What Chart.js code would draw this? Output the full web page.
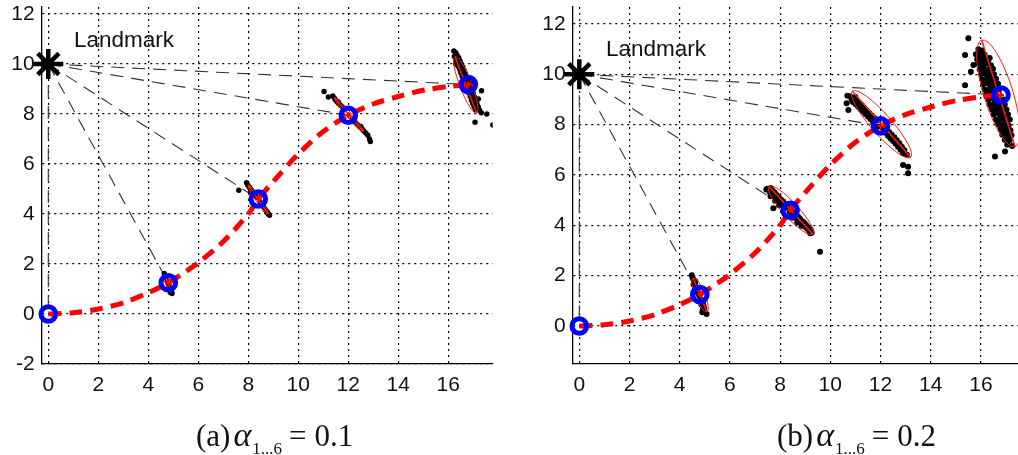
<!DOCTYPE html>
<html>
<head>
<meta charset="utf-8">
<script src="https://cdn.jsdelivr.net/npm/chart.js@4"></script>
<style>
html, body { margin: 0; padding: 0; background: #fff; }
#wrap { position: relative; width: 1018px; height: 455px; overflow: hidden; }
canvas { position: absolute; top: 0; }
</style>
</head>
<body>
<div id="wrap">
  <canvas id="chartA" width="505" height="455" style="left:0px"></canvas>
  <canvas id="chartB" width="513" height="455" style="left:505px"></canvas>
</div>
<script>
// ---- data ----
const xTicks = [0, 2, 4, 6, 8, 10, 12, 14, 16];
const yTicksA = [-2, 0, 2, 4, 6, 8, 10, 12];
const yTicksB = [0, 2, 4, 6, 8, 10, 12];

const landmarkX = [0];
const landmarkY = [10];
const landmarkLabel = 'Landmark';

// true robot poses (blue circles)
const poseX = [0, 4.8, 8.4, 12.0, 16.8];
const poseY = [0, 1.25, 4.6, 7.95, 9.18];

// red dashed trajectory
const pathX = [0, 1, 2, 3, 4, 4.8, 5.5, 6, 7, 8, 8.4, 9, 10, 11, 12, 13, 14, 15, 16, 16.8];
const pathY = [0, 0.05, 0.2, 0.45, 0.85, 1.25, 1.7, 2.05, 2.9, 4.0, 4.6, 5.3, 6.4, 7.3, 7.95, 8.4, 8.7, 8.95, 9.1, 9.18];

// particle clouds, alpha = 0.1
const cloudA1 = [[4.64,1.62],[4.68,1.52],[4.72,1.42],[4.75,1.34],[4.78,1.25],[4.82,1.15],[4.86,1.05],[4.9,0.95],[4.93,0.88],[4.95,0.82],[4.88,0.86],[4.7,1.48]];
const cloudA2 = [[7.62,4.95],[7.93,5.25],[7.98,5.15],[8.04,5.08],[8.08,5.02],[8.12,4.96],[8.16,4.9],[8.2,4.84],[8.25,4.78],[8.3,4.72],[8.35,4.66],[8.5,4.45],[8.55,4.38],[8.6,4.3],[8.65,4.22],[8.7,4.15],[8.75,4.08],[8.8,4.0],[8.85,3.95],[8.78,4.05],[8.1,4.92],[8.2,4.78]];
const cloudA3 = [[11.03,8.9],[11.2,8.68],[11.38,8.72],[11.45,8.62],[11.5,8.55],[11.56,8.48],[11.62,8.42],[11.7,8.34],[11.78,8.26],[11.85,8.18],[12.15,7.8],[12.22,7.72],[12.3,7.64],[12.38,7.56],[12.46,7.48],[12.55,7.4],[12.62,7.32],[12.7,7.24],[12.78,7.15],[12.85,7.0],[12.88,6.9],[11.6,8.48],[12.5,7.5]];
const cloudA4 = [[16.22,10.52],[16.3,10.45],[16.35,10.35],[16.24,10.3],[16.42,10.25],[16.3,10.15],[16.47,10.12],[16.36,10.02],[16.52,10.0],[16.4,9.9],[16.58,9.88],[16.46,9.78],[16.63,9.75],[16.5,9.65],[16.68,9.62],[16.55,9.52],[16.73,9.5],[16.6,9.4],[16.78,9.38],[16.65,9.28],[16.85,9.25],[16.7,9.12],[16.9,9.1],[16.76,9.0],[16.95,8.95],[16.82,8.85],[17.0,8.82],[16.88,8.7],[17.05,8.68],[16.93,8.55],[17.1,8.55],[16.98,8.42],[17.15,8.4],[17.03,8.3],[17.2,8.28],[17.08,8.18],[17.25,8.15],[17.32,8.05],[17.33,8.93],[17.07,7.67],[17.54,8.0],[17.78,7.56],[16.3,10.0],[16.95,9.3],[17.2,8.6]];

// particle clouds, alpha = 0.2
const cloudB1 = [[4.48,2.02],[4.52,1.9],[4.56,1.82],[4.6,1.72],[4.55,1.65],[4.63,1.6],[4.66,1.5],[4.7,1.42],[4.68,1.35],[4.74,1.3],[4.78,1.2],[4.85,1.05],[4.88,0.98],[4.92,0.9],[4.86,0.85],[4.95,0.8],[4.98,0.7],[4.92,0.66],[5.0,0.58],[4.9,0.55],[5.07,0.48],[4.62,1.78]];
const cloudB2 = [[7.5,5.45],[7.62,5.48],[7.6,5.3],[7.7,5.38],[7.68,5.22],[7.78,5.3],[7.62,5.15],[7.76,5.14],[7.86,5.2],[7.85,5.05],[7.95,5.12],[7.8,4.98],[7.94,4.98],[8.04,5.02],[8.02,4.88],[8.12,4.95],[7.95,4.8],[8.1,4.8],[8.2,4.85],[8.2,4.7],[8.28,4.78],[8.38,4.55],[8.45,4.6],[8.45,4.45],[8.55,4.5],[8.55,4.38],[8.62,4.42],[8.5,4.3],[8.64,4.3],[8.72,4.34],[8.72,4.2],[8.8,4.25],[8.68,4.12],[8.8,4.12],[8.9,4.15],[8.9,4.05],[8.98,4.08],[8.85,3.98],[8.98,3.95],[9.06,3.98],[9.08,3.86],[9.15,3.9],[9.16,3.78],[9.22,3.82],[9.26,3.7],[9.2,3.68],[9.59,2.95],[7.73,4.68],[7.45,5.42]];
const cloudB3 = [[10.68,9.15],[10.8,9.12],[10.85,9.0],[10.95,9.05],[10.9,8.9],[11.05,8.95],[11.0,8.82],[11.15,8.85],[11.1,8.72],[11.25,8.78],[11.2,8.62],[11.35,8.66],[11.3,8.52],[11.45,8.56],[11.4,8.42],[11.55,8.46],[11.5,8.32],[11.65,8.36],[11.6,8.22],[11.75,8.26],[11.7,8.12],[11.85,8.16],[12.1,7.85],[12.25,7.8],[12.2,7.68],[12.35,7.7],[12.3,7.56],[12.45,7.6],[12.4,7.45],[12.55,7.5],[12.5,7.35],[12.65,7.38],[12.6,7.24],[12.75,7.26],[12.7,7.12],[12.85,7.12],[12.8,7.0],[12.95,6.98],[12.9,6.86],[13.05,6.8],[12.9,6.4],[13.1,6.33],[13.1,6.07],[10.65,8.85],[10.72,8.58],[11.0,9.1],[11.9,7.92]];
const cloudB4 = [[15.9,11.0],[16.05,10.95],[15.8,10.8],[15.98,10.82],[16.15,10.78],[15.85,10.6],[16.02,10.62],[16.2,10.58],[16.35,10.65],[15.88,10.42],[16.05,10.38],[16.22,10.42],[16.4,10.36],[15.95,10.2],[16.12,10.22],[16.3,10.18],[16.48,10.22],[16.0,10.0],[16.18,10.02],[16.35,9.98],[16.52,10.0],[16.05,9.8],[16.25,9.82],[16.42,9.78],[16.6,9.82],[16.1,9.6],[16.3,9.62],[16.5,9.58],[16.68,9.62],[16.15,9.4],[16.35,9.42],[16.55,9.38],[16.72,9.4],[16.2,9.2],[16.4,9.22],[16.6,9.18],[16.3,9.0],[16.5,9.02],[16.7,8.98],[16.9,9.0],[16.35,8.8],[16.55,8.82],[16.75,8.78],[16.95,8.8],[16.45,8.6],[16.65,8.62],[16.85,8.58],[17.02,8.6],[16.5,8.4],[16.72,8.42],[16.9,8.38],[17.08,8.4],[16.6,8.2],[16.8,8.22],[17.0,8.18],[17.15,8.2],[16.7,8.0],[16.9,8.02],[17.1,7.98],[16.78,7.8],[16.98,7.82],[17.18,7.78],[16.85,7.6],[17.05,7.62],[17.22,7.58],[16.95,7.4],[17.15,7.38],[17.05,7.2],[17.25,7.15],[15.5,11.43],[15.37,10.77],[15.37,9.57],[16.56,6.73],[16.96,6.93],[15.7,10.37],[15.6,10.1],
  [15.92,10.7],[16.1,10.5],[16.08,10.1],[16.26,9.9],[16.16,9.7],[16.44,9.5],[16.26,9.3],[16.45,9.1],[16.62,8.9],[16.42,8.7],[16.58,8.5],[16.78,8.3],[16.68,8.1],[16.88,7.9],[16.95,7.7],[17.12,7.5],[16.28,10.5],[16.0,10.9]];

// covariance ellipses: major-axis end points (x1,y1,x2,y2) and half minor axis
const ellipseA = [[4.66,1.55,4.93,0.88,0.1],[8.0,5.15,8.8,4.0,0.1],[11.45,8.65,12.6,7.3,0.1],[16.27,10.29,17.13,8.03,0.24]];
const ellipseB = [[4.54,1.9,5.08,0.57,0.2],[7.55,5.55,9.3,3.65,0.3],[10.88,9.33,13.2,6.7,0.4],[16.03,11.36,17.36,7.12,0.58]];

const captionA = ['(a)', 'α', '1...6', '=', '0.1'];
const captionB = ['(b)', 'α', '1...6', '=', '0.2'];

// ---- drawing ----
const pts = (xs, ys) => xs.map((x, i) => ({x: x, y: ys[i]}));
const pairs = arr => arr.map(p => ({x: p[0], y: p[1]}));

function makeChart(id, o) {
  const datasets = [];
  datasets.push({label: 'landmark', data: pts(landmarkX, landmarkY), pointStyle: 'star',
    pointRadius: 15, borderWidth: 4.5, borderColor: '#000', backgroundColor: '#000', clip: false, order: 0});
  datasets.push({label: 'heading', data: pts(poseX.slice(1), poseY.slice(1)), pointStyle: 'cross',
    pointRadius: 3, borderWidth: 2, borderColor: '#ff0000', order: 1});
  datasets.push({label: 'poses', data: pts(poseX, poseY), pointStyle: 'circle', pointRadius: 7.3,
    borderWidth: 5, borderColor: '#0000ff', backgroundColor: 'rgba(0,0,0,0)', clip: false, order: 2});
  datasets.push({label: 'path', data: pts(pathX, pathY), showLine: true, borderColor: '#ff0000',
    borderWidth: 5, borderDash: [13, 8], pointRadius: 0, tension: 0.3, order: 3});
  o.clouds.forEach(c => datasets.push({label: 'cloud', data: pairs(c), pointRadius: o.dot,
    backgroundColor: '#000', borderWidth: 0, order: 5}));
  poseX.forEach((x, i) => datasets.push({label: 'ray',
    data: [{x: landmarkX[0], y: landmarkY[0]}, {x: x, y: poseY[i]}], showLine: true,
    borderColor: '#333', borderWidth: 1.1, borderDash: [13, 8], pointRadius: 0, order: 6}));

  const overlay = {
    id: 'overlay_' + id,
    beforeDatasetDraw(chart, args) {
      if (chart.data.datasets[args.index].label !== 'path') return;
      const xs = chart.scales.x, ys = chart.scales.y, ctx = chart.ctx, a = chart.chartArea;
      ctx.save();
      ctx.beginPath();
      ctx.rect(a.left, a.top, a.right - a.left, a.bottom - a.top);
      ctx.clip();
      ctx.strokeStyle = '#ff1a1a';
      o.ellipses.forEach(e => {
        const x1 = xs.getPixelForValue(e[0]), y1 = ys.getPixelForValue(e[1]);
        const x2 = xs.getPixelForValue(e[2]), y2 = ys.getPixelForValue(e[3]);
        const half = Math.hypot(x2 - x1, y2 - y1) / 2;
        const minor = Math.abs(xs.getPixelForValue(e[4]) - xs.getPixelForValue(0));
        const ang = Math.atan2(y2 - y1, x2 - x1);
        ctx.lineWidth = 1;
        ctx.beginPath();
        ctx.ellipse((x1 + x2) / 2, (y1 + y2) / 2, half, minor, ang, 0, Math.PI * 2);
        ctx.stroke();
        ctx.lineWidth = 1.5;
        ctx.beginPath();
        ctx.moveTo(x1, y1);
        ctx.lineTo(x2, y2);
        ctx.stroke();
      });
      ctx.restore();
    },
    afterDraw(chart) {
      const xs = chart.scales.x, ys = chart.scales.y, ctx = chart.ctx;
      ctx.save();
      ctx.fillStyle = '#111';
      ctx.font = '22.5px "Liberation Sans", Arial, sans-serif';
      ctx.textBaseline = 'middle';
      ctx.textAlign = 'left';
      ctx.fillText(landmarkLabel, xs.getPixelForValue(o.labelPos[0]), ys.getPixelForValue(o.labelPos[1]));
      // caption
      const c = o.caption;
      const serif = '"Liberation Serif", "Times New Roman", serif';
      let x = o.capX;
      const base = 446;
      ctx.textBaseline = 'alphabetic';
      ctx.font = '31px ' + serif;
      ctx.fillText(c[0], x, base);
      x += ctx.measureText(c[0]).width + 3;
      ctx.font = 'italic 34px ' + serif;
      ctx.fillText(c[1], x, base);
      x += ctx.measureText(c[1]).width + 1;
      ctx.font = '17px ' + serif;
      ctx.fillText(c[2], x, base + 8);
      x += ctx.measureText(c[2]).width + 7;
      ctx.font = '31px ' + serif;
      ctx.fillText(c[3], x, base);
      x += ctx.measureText(c[3]).width + 8;
      ctx.fillText(c[4], x, base);
      ctx.restore();
    }
  };

  const tickFont = {family: '"Liberation Sans", Arial, sans-serif', size: 21};
  return new Chart(document.getElementById(id), {
    type: 'scatter',
    data: {datasets: datasets},
    options: {
      responsive: false,
      animation: false,
      devicePixelRatio: 1,
      events: [],
      layout: {autoPadding: false, padding: {top: 7, right: o.padR, left: 0, bottom: 0}},
      plugins: {legend: {display: false}, tooltip: {enabled: false}},
      scales: {
        x: {
          type: 'linear', min: o.xMin, max: o.xMax,
          afterBuildTicks: s => { s.ticks = xTicks.map(v => ({value: v})); },
          afterFit: s => { s.height = 91; s.paddingLeft = 0; s.paddingRight = 0; },
          ticks: {font: tickFont, color: '#111', padding: 9, maxRotation: 0, autoSkip: false},
          grid: {color: '#000', lineWidth: 1.2, drawTicks: false},
          border: {display: true, color: '#000', width: 1.3, dash: [2, 4]}
        },
        y: {
          type: 'linear', min: o.yMin, max: o.yMax,
          afterBuildTicks: s => { s.ticks = o.yTicks.map(v => ({value: v})); },
          afterFit: s => { s.width = o.yAxisW; s.paddingTop = 0; s.paddingBottom = 0; },
          ticks: {font: tickFont, color: '#111', padding: 7, autoSkip: false},
          grid: {color: '#000', lineWidth: 1.2, drawTicks: false},
          border: {display: true, color: '#000', width: 1.3, dash: [2, 4]}
        }
      }
    },
    plugins: [overlay]
  });
}

makeChart('chartA', {
  clouds: [cloudA1, cloudA2, cloudA3, cloudA4], ellipses: ellipseA, dot: 2.7,
  xMin: -0.264, xMax: 17.776, yMin: -2, yMax: 12.28, yTicks: yTicksA,
  yAxisW: 41.7, padR: 12.3, labelPos: [1.03, 10.93], caption: captionA, capX: 196
});
makeChart('chartB', {
  clouds: [cloudB1, cloudB2, cloudB3, cloudB4], ellipses: ellipseB, dot: 3,
  xMin: -0.263, xMax: 17.478, yMin: -1.51, yMax: 12.674, yTicks: yTicksB,
  yAxisW: 67.7, padR: 0, labelPos: [1.06, 10.97], caption: captionB, capX: 272
});
</script>
</body>
</html>
